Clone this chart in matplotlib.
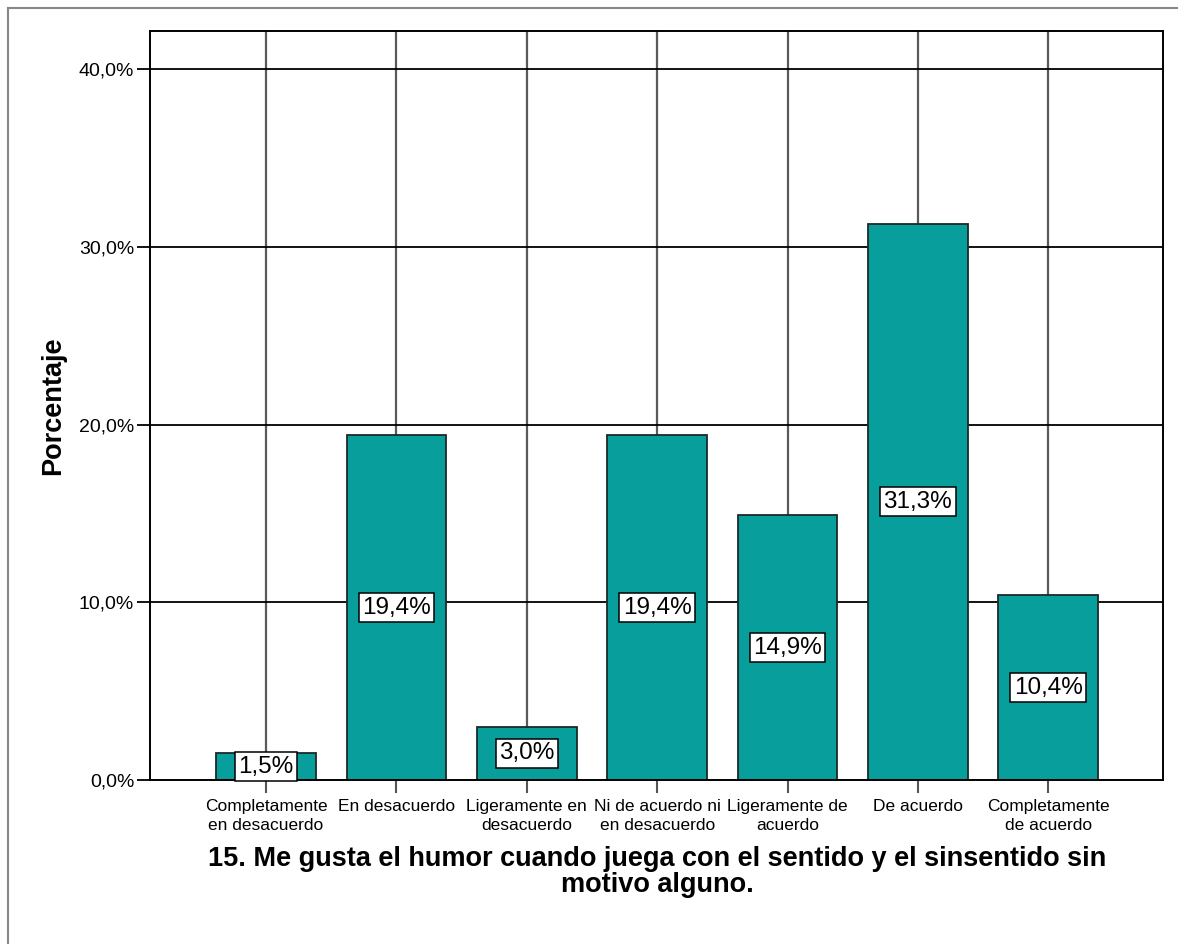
import matplotlib
matplotlib.use("Agg")
import matplotlib.pyplot as plt
from matplotlib.lines import Line2D

categories = ["Completamente\nen desacuerdo", "En desacuerdo", "Ligeramente en\ndesacuerdo",
              "Ni de acuerdo ni\nen desacuerdo", "Ligeramente de\nacuerdo", "De acuerdo",
              "Completamente\nde acuerdo"]
values = [1.5, 19.4, 3.0, 19.4, 14.9, 31.3, 10.4]
yticks = [0, 10, 20, 30, 40]
ytick_labels = ["0,0%", "10,0%", "20,0%", "30,0%", "40,0%"]
title = "15. Me gusta el humor cuando juega con el sentido y el sinsentido sin\nmotivo alguno."
ylabel = "Porcentaje"

plt.rcParams['font.family'] = ['Liberation Sans', 'DejaVu Sans']

W, H = 1178, 944
fig = plt.figure(figsize=(W/100, H/100), dpi=100)
fig.patch.set_facecolor('white')
ax = fig.add_axes([150/W, 1-780/H, (1163-150)/W, (780-31)/H])

x = list(range(len(values)))
for xi in x:
    ax.axvline(xi, color='#5a5a5a', lw=1.6, zorder=0)
for yt in yticks[1:]:
    ax.axhline(yt, color='black', lw=1.3, zorder=0.5)
ax.bar(x, values, width=0.765, color='#079e9b', edgecolor='#1a2a2a', linewidth=1.3, zorder=2)
for xi, v in zip(x, values):
    ax.text(xi, v/2, f"{v:.1f}%".replace('.', ','), ha='center', va='center', fontsize=17.5,
            zorder=3, bbox=dict(boxstyle='square,pad=0.14', fc='white', ec='black', lw=1.1))

ax.set_xlim(-0.89, 6.88)
ax.set_ylim(0, 42.14)
ax.set_yticks(yticks)
ax.set_yticklabels(ytick_labels, fontsize=14)
ax.set_xticks(x)
ax.set_xticklabels(categories, fontsize=12.5, linespacing=1.3)
ax.tick_params(axis='x', length=9.4, width=1.5, color='#555555', pad=4.5)
ax.tick_params(axis='y', length=9.4, width=1.3, color='black', pad=2)
for s in ax.spines.values():
    s.set_color('black')
    s.set_linewidth(1.4)
ax.set_ylabel(ylabel, fontsize=19.5, fontweight='bold')
ax.yaxis.set_label_coords((66-150)/1013, 0.5)
fig.text(657/W, 1-872/H, title, ha='center', va='center', fontsize=19.5, fontweight='bold', linespacing=1.0)

fig.add_artist(Line2D([8/W, 1], [1-8/H, 1-8/H], color='#888888', lw=1.5, transform=fig.transFigure))
fig.add_artist(Line2D([8/W, 8/W], [0, 1-8/H], color='#888888', lw=1.5, transform=fig.transFigure))

fig.savefig("out.png", dpi=100)
